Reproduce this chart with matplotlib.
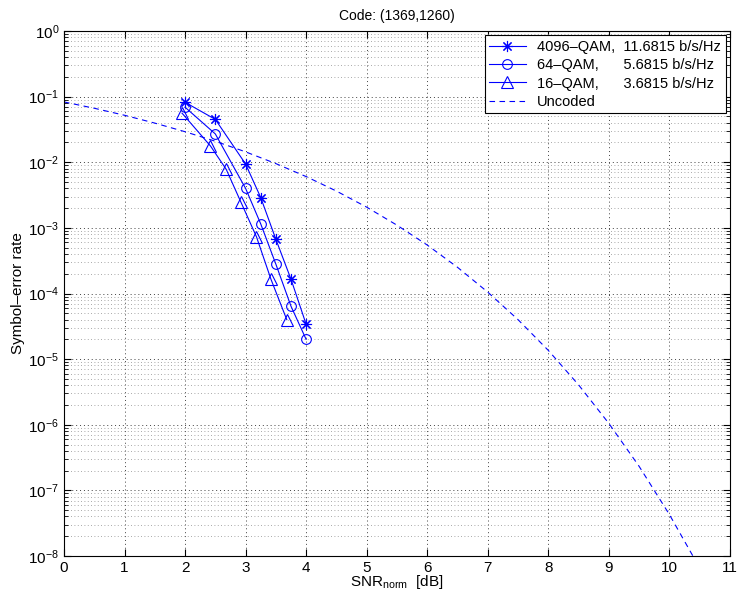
import numpy as np
import matplotlib
matplotlib.use('Agg')
import matplotlib.pyplot as plt
from matplotlib.ticker import LogLocator, NullFormatter

# 4096-QAM, 64-QAM (same SNR points)
snr_qam = [2.0, 2.5, 3.0, 3.25, 3.5, 3.75, 4.0]
ser_4096 = [0.082, 0.045, 0.0094, 0.0029, 6.7e-4, 1.65e-4, 3.4e-5]
ser_64 = [0.069, 0.027, 0.0040, 1.15e-3, 2.8e-4, 6.4e-5, 2.0e-5]

# 16-QAM
snr_16 = [1.95, 2.42, 2.68, 2.92, 3.18, 3.42, 3.68]
ser_16 = [0.056, 0.0177, 0.0078, 0.0025, 7.3e-4, 1.64e-4, 4.0e-5]

snr_unc = [0, 0.5, 1, 1.5, 2, 2.5, 3, 3.5, 4, 4.5, 5, 5.5, 6, 6.5, 7,
           7.5, 8, 8.5, 9, 9.5, 10, 10.5]
ser_unc = [0.083, 0.0665, 0.052, 0.0395, 0.0292, 0.0209, 0.0144, 0.00954,
           0.00605, 0.00364, 0.00207, 1.10e-3, 5.48e-4, 2.51e-4, 1.05e-4,
           4.0e-5, 1.36e-5, 4.06e-6, 1.05e-6, 2.33e-7, 4.3e-8, 6.6e-9]

plt.rcParams['font.family'] = ['Liberation Sans', 'DejaVu Sans']
plt.rcParams['mathtext.fontset'] = 'custom'
plt.rcParams['mathtext.rm'] = 'Liberation Sans'
plt.rcParams['mathtext.it'] = 'Liberation Sans'

fig = plt.figure(figsize=(7.38, 6.02), dpi=100)
ax = fig.add_axes([0.0867, 0.0764, 0.9023, 0.8721])

blue = (0, 0, 1)
ax.semilogy(snr_qam, ser_4096, '-', color=blue, lw=0.8, marker=(8, 2, 0),
            ms=8, mew=0.8, label='4096\u2013QAM,  11.6815 b/s/Hz')
ax.semilogy(snr_qam, ser_64, '-', color=blue, lw=0.8, marker='o', ms=7,
            mfc='none', mew=0.8, label='64\u2013QAM,      5.6815 b/s/Hz')
ax.semilogy(snr_16, ser_16, '-', color=blue, lw=0.8, marker='^', ms=8,
            mfc='none', mew=0.8, label='16\u2013QAM,      3.6815 b/s/Hz')
ax.semilogy(snr_unc, ser_unc, '--', color=blue, lw=0.8, dashes=(5, 4),
            label='Uncoded')

ax.set_xlim(0, 11)
ax.set_ylim(1e-8, 1)
ax.set_xticks(range(12))
ax.yaxis.set_major_locator(LogLocator(base=10, numticks=20))
ax.yaxis.set_minor_locator(LogLocator(base=10, subs=np.arange(2, 10), numticks=20))
ax.yaxis.set_minor_formatter(NullFormatter())

ax.grid(True, which='major', axis='both', ls=(0, (1, 3)), color='0.25', lw=0.7)
ax.grid(True, which='minor', axis='y', ls=(0, (1, 3)), color='0.55', lw=0.6)
ax.tick_params(which='both', direction='in', top=True, right=True, labelsize=11)
ax.tick_params(which='major', length=5)
ax.tick_params(which='minor', length=3)
for s in ax.spines.values():
    s.set_linewidth(0.8)

ax.set_title('Code: (1369,1260)', fontsize=10, pad=8)
ax.set_xlabel('SNR$_\\mathregular{norm}$  [dB]', fontsize=11, labelpad=-1)
ax.set_ylabel('Symbol\u2013error rate', fontsize=11, labelpad=2)

leg = ax.legend(loc='upper right', fontsize=10.5, fancybox=False, framealpha=1,
                edgecolor='k', borderaxespad=0.3, handlelength=2.5,
                borderpad=0.3, labelspacing=0.3)
leg.get_frame().set_linewidth(0.8)

fig.savefig('out.png', dpi=100)
